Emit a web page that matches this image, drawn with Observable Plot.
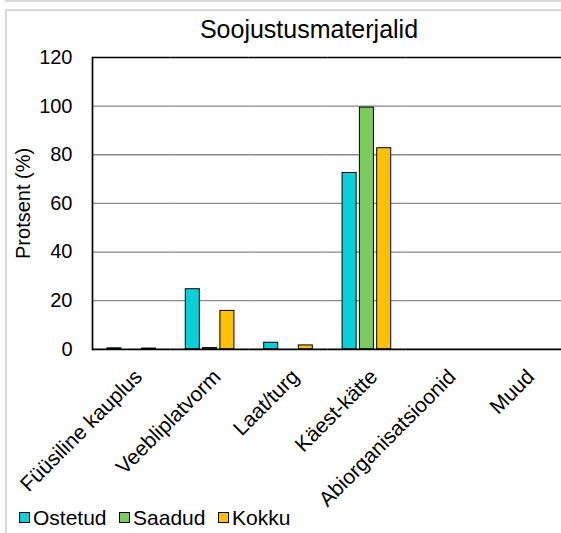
<!DOCTYPE html>
<html>
<head>
<meta charset="utf-8">
<script src="https://cdn.jsdelivr.net/npm/d3@7"></script>
<script src="https://cdn.jsdelivr.net/npm/@observablehq/plot@0.6"></script>
<style>
  html, body { margin: 0; padding: 0; background: #fff; overflow: hidden; }
  #page { position: relative; width: 561px; height: 533px; overflow: hidden;
          font-family: "Liberation Sans", Arial, sans-serif; color: #000; }
  .frame1 { position: absolute; left: 5px; top: -10px; width: 600px; height: 10px;
            border-left: 2px solid #d9d9d9; border-bottom: 2px solid #d9d9d9; }
  .frame2 { position: absolute; left: 5px; top: 9px; width: 600px; height: 600px;
            border-left: 2px solid #d9d9d9; border-top: 2px solid #d9d9d9; }
  #title { position: absolute; left: 0; top: 16.8px; width: 618px; text-align: center;
           font-size: 25px; line-height: 25px; white-space: nowrap; }
  #chart { position: absolute; left: 0; top: 0; }
  #legend { position: absolute; left: 19px; top: 507px; display: flex; align-items: center;
            font-size: 21px; line-height: 21px; white-space: nowrap; }
  .item { display: flex; align-items: center; margin-right: 12.5px; }
  .sw { width: 9px; height: 9px; border: 1px solid #000; margin-right: 3px; }
</style>
</head>
<body>
<div id="page">
  <div class="frame1"></div>
  <div class="frame2"></div>
  <div id="title"></div>
  <div id="chart"></div>
  <div id="legend"></div>
</div>
<script>
const titleText = "Soojustusmaterjalid";
const yLabel = "Protsent (%)";
const categories = ["Füüsiline kauplus", "Veebliplatvorm", "Laat/turg", "Käest-kätte", "Abiorganisatsioonid", "Muud"];
const series = ["Ostetud", "Saadud", "Kokku"];
const colors = ["#0bcfd8", "#7dcb5f", "#ffc000"];
const ostetud = [0.4, 24.7, 2.7, 72.5, 0, 0];
const saadud  = [0,   0.5,  0,   99.4, 0, 0];
const kokku   = [0.3, 15.8, 1.6, 82.7, 0, 0];
const yTicks = [0, 20, 40, 60, 80, 100, 120];
const gridTicks = [20, 40, 60, 80, 100];
const borderTicks = [0, 120];

const values = {Ostetud: ostetud, Saadud: saadud, Kokku: kokku};
const data = [];
categories.forEach((c, i) => series.forEach(s => data.push({cat: c, series: s, value: values[s][i]})));

document.getElementById("title").textContent = titleText;

const W = 561, H = 505;
const chart = Plot.plot({
  width: W,
  height: H,
  marginLeft: 92,
  marginRight: 0,
  marginTop: 57,
  marginBottom: 156.2,
  style: {fontFamily: "'Liberation Sans', Arial, sans-serif", color: "#000", background: "transparent", overflow: "visible"},
  fx: {domain: categories, range: [92, 562.4], padding: 0, round: false, axis: null, label: null},
  x: {domain: series, paddingInner: 0.19, paddingOuter: 0.86, round: false, axis: null},
  y: {domain: [0, 120], axis: null},
  color: {domain: series, range: colors},
  marks: [
    Plot.ruleY(gridTicks, {stroke: "#898989", strokeWidth: 1.3}),
    Plot.barY(data, {fx: "cat", x: "series", y: "value", fill: "series", stroke: "#000", strokeWidth: 1}),
    Plot.ruleY(borderTicks, {stroke: "#000", strokeWidth: 1.7}),
    Plot.frame({anchor: "left", stroke: "#000", strokeWidth: 1.7, facet: "super"}),
    Plot.axisY({ticks: yTicks, tickFormat: d => String(d), tickSize: 0, tickPadding: 20, fontSize: 20,
                label: yLabel, labelAnchor: "center", labelOffset: 77, labelArrow: "none"}),
    Plot.axisFx({anchor: "bottom", tickRotate: -45, tickSize: 0, tickPadding: 24, dx: 7, fontSize: 21, label: null})
  ]
});
document.getElementById("chart").appendChild(chart);

const legend = document.getElementById("legend");
series.forEach((s, i) => {
  const it = document.createElement("div");
  it.className = "item";
  const sw = document.createElement("div");
  sw.className = "sw";
  sw.style.background = colors[i];
  const t = document.createElement("span");
  t.textContent = s;
  it.appendChild(sw);
  it.appendChild(t);
  legend.appendChild(it);
});
</script>
</body>
</html>
